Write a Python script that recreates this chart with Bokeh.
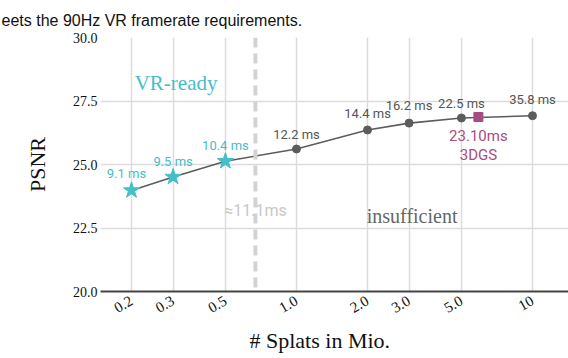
import math
from bokeh.plotting import figure
from bokeh.models import Range1d, FixedTicker, Label, Span, ColumnDataSource, Title
from bokeh.core.properties import value
from bokeh.embed import file_html
from bokeh.resources import INLINE

# ---- data ----
splats = [0.2, 0.3, 0.5, 1.0, 2.0, 3.0, 5.0, 10.0]
psnr = [23.98, 24.51, 25.13, 25.61, 26.36, 26.63, 26.83, 26.92]
frame_ms = ["9.1 ms", "9.5 ms", "10.4 ms", "12.2 ms", "14.4 ms", "16.2 ms", "22.5 ms", "35.8 ms"]
vr_ready = [True, True, True, False, False, False, False, False]

gs_splats = [5.9]
gs_psnr = [26.87]
gs_time = ["23.10ms"]
gs_name = ["3DGS"]

vr_limit_splats = 0.67
vr_limit_label = "≈11.1ms"

x_ticks = [0.2, 0.3, 0.5, 1.0, 2.0, 3.0, 5.0, 10.0]
x_tick_labels = ["0.2", "0.3", "0.5", "1.0", "2.0", "3.0", "5.0", "10"]
y_ticks = [20.0, 22.5, 25.0, 27.5, 30.0]
y_tick_labels = ["20.0", "22.5", "25.0", "27.5", "30.0"]

x_title = "# Splats in Mio."
y_title = "PSNR"
page_text = "eets the 90Hz VR framerate requirements."

# ---- style ----
CYAN = "#45bec8"
MAGENTA = "#a64d80"
DARK = "#5c5c5c"
GRID = "#dcdcdc"
SERIF = "Liberation Serif"
SANS = "Roboto"
label_dx = [-5, 0, 0, 0, 0, 0, 0, 0]
label_dy = [-17, -15, -16, -15, -16, -18, -15, -16]

p = figure(width=568, height=358, x_axis_type="log",
           x_range=Range1d(0.1478, 14.21), y_range=Range1d(20, 30),
           output_backend="svg", toolbar_location=None,
           min_border_left=100, min_border_right=0, min_border_top=0, min_border_bottom=0)
p.outline_line_color = None
p.background_fill_color = "white"
p.border_fill_color = "white"

# top: cropped line of surrounding text
p.title.text = page_text
p.title.text_font = "Liberation Sans"
p.title.text_font_size = "16px"
p.title.text_font_style = "normal"
p.title.text_color = "#111111"
p.title.align = "left"
p.title.offset = -99
p.title.standoff = 18

# axes
xt = FixedTicker(ticks=x_ticks, minor_ticks=[])
yt = FixedTicker(ticks=y_ticks, minor_ticks=[])
p.xaxis.ticker = xt
p.yaxis.ticker = yt
p.xaxis.major_label_overrides = {t: l for t, l in zip(x_ticks, x_tick_labels)}
p.yaxis.major_label_overrides = {t: l for t, l in zip(y_ticks, y_tick_labels)}
for ax in (p.xaxis[0], p.yaxis[0]):
    ax.major_tick_line_color = None
    ax.minor_tick_line_color = None
    ax.major_tick_out = 0
    ax.major_tick_in = 0
    ax.minor_tick_out = 0
    ax.minor_tick_in = 0
    ax.major_label_text_font = SERIF
    ax.major_label_text_font_size = "14px"
    ax.major_label_text_color = "#111111"
    ax.axis_label_text_font = SERIF
    ax.axis_label_text_font_style = "normal"
    ax.axis_label_text_color = "#111111"
p.xaxis.axis_line_color = "#444444"
p.xaxis.axis_line_width = 2
p.xaxis.major_label_text_font_size = "15px"
p.xaxis.major_label_orientation = math.radians(30)
p.xaxis.major_label_standoff = 8
p.yaxis.axis_line_color = None
p.yaxis.major_label_standoff = 3
p.yaxis.axis_label = y_title
p.yaxis.axis_label_text_font_size = "22px"
p.yaxis.axis_label_standoff = 20

# x-axis title as a below-title so it can be placed horizontally
p.add_layout(Title(text=x_title, align="left", offset=149, standoff=11,
                   text_font=SERIF, text_font_size="22px", text_font_style="normal",
                   text_color="#111111"), "below")

p.xgrid.ticker = xt
p.ygrid.ticker = yt
p.xgrid.grid_line_color = GRID
p.ygrid.grid_line_color = GRID
p.xgrid.grid_line_width = 1.5
p.ygrid.grid_line_width = 1.5

# VR threshold
p.add_layout(Span(location=vr_limit_splats, dimension="height", line_color="#d2d2d2",
                  line_width=4, line_dash="10 6"))

# line
p.line(splats, psnr, line_color=DARK, line_width=1.6)

src = ColumnDataSource(dict(
    x=splats, y=psnr, t=frame_ms,
    c=[CYAN if v else "#555555" for v in vr_ready],
    dx=label_dx, dy=label_dy,
))
ready_x = [x for x, v in zip(splats, vr_ready) if v]
ready_y = [y for y, v in zip(psnr, vr_ready) if v]
rest_x = [x for x, v in zip(splats, vr_ready) if not v]
rest_y = [y for y, v in zip(psnr, vr_ready) if not v]
p.scatter(rest_x, rest_y, marker="circle", size=8, fill_color=DARK, line_color=DARK)
p.scatter(ready_x, ready_y, marker="star", size=17, fill_color=CYAN, line_color=CYAN)
p.scatter(gs_splats, gs_psnr, marker="square", size=9, fill_color=MAGENTA, line_color=MAGENTA)

p.text(x="x", y="y", text="t", source=src, text_color="c", text_align="center",
       text_baseline="middle", x_offset="dx", y_offset="dy",
       text_font=value(SANS), text_font_size="13px")

p.text(gs_splats, gs_psnr, text=gs_time, text_color=MAGENTA, text_align="center",
       text_baseline="middle", y_offset=19, text_font=value(SANS), text_font_size="15px")
p.text(gs_splats, gs_psnr, text=gs_name, text_color=MAGENTA, text_align="center",
       text_baseline="middle", y_offset=38, text_font=value(SANS), text_font_size="15px")

p.add_layout(Label(x=0.309, y=28.21, text="VR-ready", text_color=CYAN, text_font=SERIF,
                   text_font_size="21px", text_align="center", text_baseline="middle"))
p.add_layout(Label(x=3.09, y=22.99, text="insufficient", text_color="#666666", text_font=SERIF,
                   text_font_size="20px", text_align="center", text_baseline="middle"))
p.add_layout(Label(x=vr_limit_splats, y=23.17, text=vr_limit_label, text_color="#c8c8c8",
                   text_font=SANS, text_font_size="16px", text_align="center", text_baseline="middle"))

open("out.html", "w").write(file_html(p, INLINE))
